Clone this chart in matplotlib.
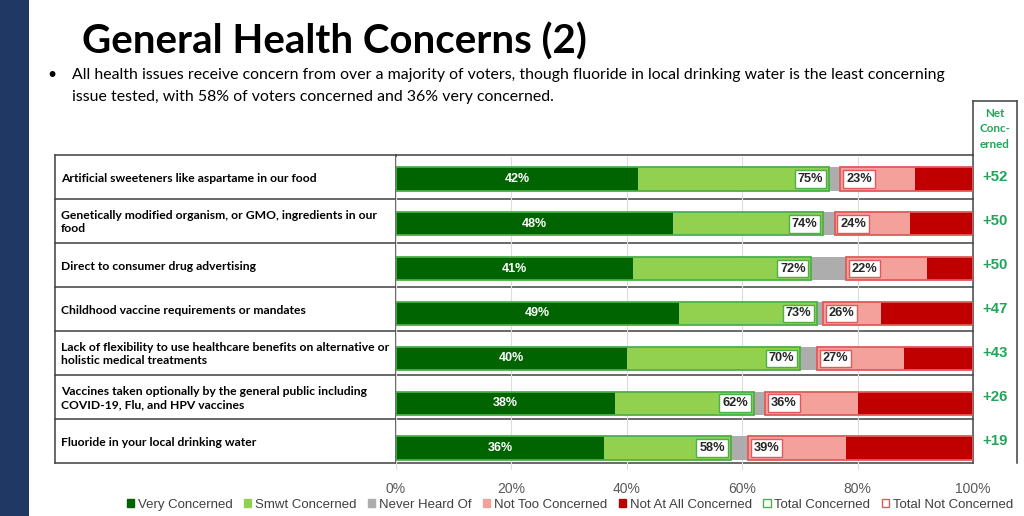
import matplotlib
matplotlib.use("Agg")
import matplotlib.pyplot as plt
from matplotlib.patches import Patch, Rectangle
import numpy as np

# ---------------- data ----------------
categories = [
    "Artificial sweeteners like aspartame in our food",
    "Genetically modified organism, or GMO, ingredients in our\nfood",
    "Direct to consumer drug advertising",
    "Childhood vaccine requirements or mandates",
    "Lack of flexibility to use healthcare benefits on alternative or\nholistic medical treatments",
    "Vaccines taken optionally by the general public including\nCOVID-19, Flu, and HPV vaccines",
    "Fluoride in your local drinking water",
]
very_concerned = [42, 48, 41, 49, 40, 38, 36]
total_concerned = [75, 74, 72, 73, 70, 62, 58]
not_at_all = [10, 11, 8, 16, 12, 20, 22]
total_not_concerned = [23, 24, 22, 26, 27, 36, 39]
net_concerned = ["+52", "+50", "+50", "+47", "+43", "+26", "+19"]
xtick_vals = [0, 20, 40, 60, 80, 100]
xtick_labels = ["0%", "20%", "40%", "60%", "80%", "100%"]
legend_labels = ["Very Concerned", "Smwt Concerned", "Never Heard Of",
                 "Not Too Concerned", "Not At All Concerned",
                 "Total Concerned", "Total Not Concerned"]

title = "General Health Concerns (2)"
bullet_lines = [
    "All health issues receive concern from over a majority of voters, though fluoride in local drinking water is the least concerning",
    "issue tested, with 58% of voters concerned and 36% very concerned.",
]

# ---------------- style ----------------
C_VERY = "#006400"
C_SMWT = "#92D050"
C_NEVER = "#ADADAD"
C_NOTTOO = "#F4A19C"
C_NOTALL = "#C00000"
C_TOT_G = "#4DAF4A"
C_TOT_R = "#E05A5A"
C_NET = "#22A55A"
NARROW = ["Liberation Sans Narrow", "Liberation Sans", "DejaVu Sans"]
CAL = ["Lato", "DejaVu Sans"]

W, H = 1024, 516
fig = plt.figure(figsize=(W / 100, H / 100), dpi=100)
fig.patch.set_facecolor("white")

# overlay in pixel coordinates
ov = fig.add_axes([0, 0, 1, 1])
ov.set_xlim(0, W)
ov.set_ylim(H, 0)
ov.axis("off")

ov.add_patch(Rectangle((0, 0), 29, H, facecolor="#1F3864", edgecolor="none"))

ov.text(82, 42, title, fontsize=29, fontweight="bold", family=CAL,
        va="center", ha="left", color="black")
ov.text(47, 75, "\u2022", fontsize=11.5, va="center", ha="left", family=CAL)
for k, line in enumerate(bullet_lines):
    ov.text(72, 75 + 22 * k, line, fontsize=11.45, va="center", ha="left",
            family=CAL, color="black")

# table grid
n = len(categories)
row_edges = np.linspace(155, 463, n + 1)
row_centers = (row_edges[:-1] + row_edges[1:]) / 2
lc = "#404040"
for y in row_edges:
    ov.plot([55, 973], [y, y], color=lc, lw=1.1)
ov.plot([973, 1017], [101, 101], color=lc, lw=1.1)
for x, y0 in [(55, 155), (396, 155), (973, 101), (1017, 101)]:
    ov.plot([x, x], [y0, 463], color=lc, lw=1.1)

ov.text(995, 129, "Net\nConc-\nerned", fontsize=8.4, fontweight="bold",
        color=C_NET, ha="center", va="center", family=CAL, linespacing=1.45)

for i, cat in enumerate(categories):
    ov.text(61, row_centers[i] + 1, cat, fontsize=8.7, fontweight="bold",
            family=CAL, ha="left", va="center", linespacing=1.25)
    ov.text(995, row_centers[i], net_concerned[i], fontsize=10.8,
            fontweight="bold", color=C_NET, ha="center", va="center",
            family=NARROW)

# bar axes
top_px, bot_px = 156.6, 470.4
ax = fig.add_axes([396 / W, (H - bot_px) / H, 577 / W, (bot_px - top_px) / H])
ax.patch.set_alpha(0)
ax.set_xlim(0, 100)
ax.set_ylim(n - 0.5, -0.5)
for s in ax.spines.values():
    s.set_visible(False)
ax.set_yticks([])
ax.set_xticks(xtick_vals)
ax.set_xticklabels(xtick_labels, fontsize=10, color="#595959", family=NARROW)
ax.tick_params(axis="x", length=0, pad=8)
ax.grid(axis="x", color="#DDDDDD", lw=0.8)
ax.set_axisbelow(True)

y = np.arange(n)
very = np.array(very_concerned)
tot = np.array(total_concerned)
nall = np.array(not_at_all)
tnot = np.array(total_not_concerned)
smwt = tot - very
nottoo = tnot - nall
never = 100 - tot - tnot

h = 0.52
ax.barh(y, very, height=h, color=C_VERY, zorder=2)
ax.barh(y, smwt, left=very, height=h, color=C_SMWT, zorder=2)
ax.barh(y, never, left=tot, height=h, color=C_NEVER, zorder=2)
ax.barh(y, nottoo, left=tot + never, height=h, color=C_NOTTOO, zorder=2)
ax.barh(y, nall, left=tot + never + nottoo, height=h, color=C_NOTALL, zorder=2)
ax.barh(y, tot, height=h, fill=False, edgecolor=C_TOT_G, lw=1.3, zorder=3)
ax.barh(y, tnot, left=100 - tnot, height=h, fill=False, edgecolor=C_TOT_R,
        lw=1.3, zorder=3)

for i in range(n):
    ax.text(very[i] / 2, y[i], f"{very[i]}%", color="white", fontsize=9,
            fontweight="bold", ha="center", va="center", family=NARROW, zorder=4)
    ax.text(tot[i] - 1.0, y[i], f"{tot[i]}%", color="#262626", fontsize=9.2,
            fontweight="bold", ha="right", va="center", family=NARROW, zorder=5,
            bbox=dict(boxstyle="square,pad=0.22", facecolor="white",
                      edgecolor=C_TOT_G, lw=1.0))
    ax.text(100 - tnot[i] + 1.0, y[i], f"{tnot[i]}%", color="#262626", fontsize=9.2,
            fontweight="bold", ha="left", va="center", family=NARROW, zorder=5,
            bbox=dict(boxstyle="square,pad=0.22", facecolor="white",
                      edgecolor=C_TOT_R, lw=1.0))

# legend
face = [C_VERY, C_SMWT, C_NEVER, C_NOTTOO, C_NOTALL, "white", "white"]
edge = [C_VERY, C_SMWT, C_NEVER, C_NOTTOO, C_NOTALL, C_TOT_G, C_TOT_R]
handles = [Patch(facecolor=f, edgecolor=e, lw=1.0) for f, e in zip(face, edge)]
leg = fig.legend(handles, legend_labels, loc="center",
                 bbox_to_anchor=(570 / W, 1 - 505 / H), ncol=7, frameon=False,
                 prop={"family": NARROW, "size": 9.5}, handlelength=0.55,
                 handleheight=0.55, handletextpad=0.3, columnspacing=0.85,
                 borderpad=0)
for t in leg.get_texts():
    t.set_color("#404040")

fig.savefig("out.png", dpi=100, facecolor="white")
